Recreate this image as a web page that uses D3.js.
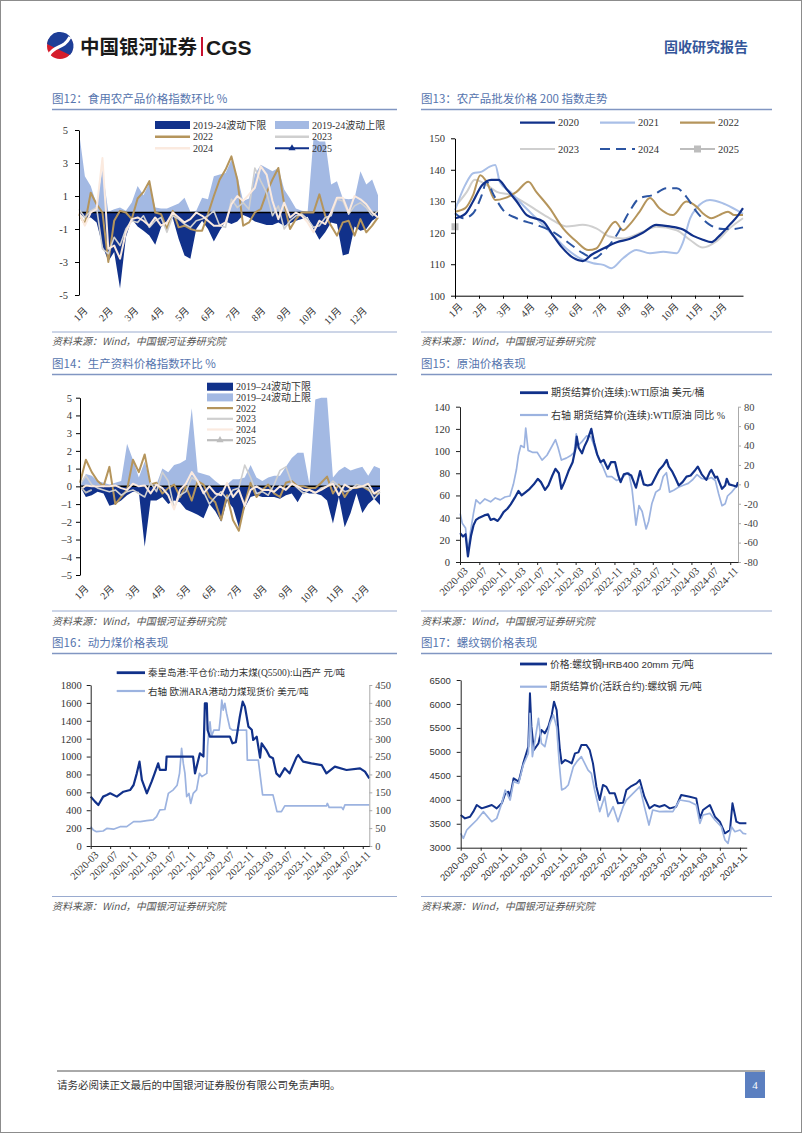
<!DOCTYPE html>
<html><head><meta charset="utf-8">
<script src="https://cdn.jsdelivr.net/npm/d3@7"></script>
<style>body{margin:0;background:#fff}svg{display:block}</style>
</head><body>
<svg id="page" width="802" height="1133"></svg>
<script>
// ---------------- DATA ----------------
const monthLabels = ["1月","2月","3月","4月","5月","6月","7月","8月","9月","10月","11月","12月"];
const dateTickLabels = ["2020-03","2020-07","2020-11","2021-03","2021-07","2021-11","2022-03","2022-07","2022-11","2023-03","2023-07","2023-11","2024-03","2024-07","2024-11"];

// Fig 12: food price index w/w (weekly, 52 weeks)
const foodUpper = [4.9,2.2,1.6,0.5,2.6,0.05,0.2,0.3,0.1,0.6,1.6,1.05,1.8,0.3,0.25,0.25,0.4,0.55,0.9,0.05,0.1,0.9,0.8,2.2,2.3,2.4,3.2,2.2,0.7,0.85,2.3,2.9,2.7,2.5,2.7,1.4,0.85,0.25,0.1,0.05,4.5,4.3,4.3,1.7,1.9,0.85,0.8,0.85,2.5,1.7,2.0,1.05];
const foodLower = [0,-0.35,-0.3,-0.6,-2.0,-2.95,-2.4,-4.6,-1.5,-0.4,-0.85,-1.1,-1.4,-1.95,-0.9,-0.55,-0.35,-1.6,-2.6,-2.8,-1.0,-0.5,-1.0,-1.75,-1.1,-0.55,-0.7,-0.55,-0.15,-0.3,-0.55,-0.65,-0.75,-0.75,-0.6,-0.8,-0.65,-0.5,-0.4,-0.25,-1.0,-1.65,-1.2,-0.6,-0.7,-2.6,-2.5,-0.85,-1.1,-1.0,-0.5,-0.25];
const food2022 = [-0.1,-0.7,1.2,0.5,0.0,-3.0,-0.5,0.1,0.0,-0.4,0.85,1.25,1.9,0.0,-0.1,-1.0,0.1,-0.9,-0.8,-1.0,-1.1,-1.1,-0.1,1.0,2.0,2.6,3.4,2.0,-0.8,-0.6,0.0,0.2,1.2,2.0,2.7,0.5,-1.0,-0.4,0.0,0.0,0.0,1.1,-0.2,-0.8,-1.4,-0.6,-0.5,-1.4,-0.4,-1.2,-0.8,-0.3];
const food2023 = [0.2,-0.3,0.1,0.3,-2.2,-2.5,-1.5,-2.0,-1.0,-0.5,-0.6,-0.2,-0.9,-0.5,-0.3,-1.2,-0.2,-0.4,-0.7,-0.9,-0.5,-0.4,-0.2,0.1,-0.8,-0.9,0.8,0.3,0.6,0.2,2.7,1.9,1.2,-0.2,0.4,-1.0,-0.5,-0.2,-0.1,-0.4,-0.9,-0.8,-0.3,-0.2,0.8,0.7,-0.1,0.4,0.6,0.3,-0.2,0.1];
const food2024 = [0.0,-0.8,0.0,0.2,3.3,-2.2,-2.0,-2.8,-1.2,-0.4,-0.3,-0.5,-0.8,-0.3,-0.8,-0.6,0.0,-0.3,-0.6,-0.4,0.0,-0.2,-0.5,-0.8,-0.8,-0.6,0.5,1.0,0.7,1.1,1.5,2.8,2.3,0.7,-0.4,0.6,-0.3,0.0,-0.2,-0.6,-1.2,-0.5,-0.7,0.0,0.9,0.9,0.0,1.0,0.8,0.5,0.0,-0.3];
const food2025 = [[47,-0.25],[48,-0.2],[49,-0.2],[50,-0.25]];

// Fig 13: agri wholesale price 200 index, [day of year, value]
const agri2020 = [[0,124.6],[13,126],[23,130],[34,135],[46,136.8],[55,136.8],[65,134],[78,130],[91,125.6],[112,123.5],[122,120],[135,115.5],[150,112],[162,111],[173,113],[188,115],[205,117],[221,118],[238,120],[255,122.5],[272,122],[289,121],[302,119],[314,117.8],[325,117],[335,119],[348,122.5],[359,125.6],[365,127.8]];
const agri2021 = [[0,127.2],[13,135.2],[23,138.9],[34,139.4],[44,141],[51,141.5],[57,136],[70,133],[86,128.8],[103,124.6],[120,120.3],[141,115],[158,111.9],[175,110.3],[188,109.8],[198,108.7],[213,111.9],[230,114.5],[247,113.5],[264,114],[281,113.5],[289,117],[298,124.6],[306,127.8],[323,130.4],[340,129.3],[357,127.2],[365,126]];
const agri2022 = [[0,126.7],[13,127.8],[23,132],[32,138.3],[40,136.2],[51,130.4],[63,131],[78,133],[93,136.2],[103,133],[120,127.8],[137,121.4],[154,117.2],[169,114.5],[179,115],[192,120.3],[203,123.5],[213,120.8],[221,122.5],[234,126.7],[247,131],[259,127.8],[276,125.6],[293,129.9],[306,128.3],[314,126.2],[325,124.6],[335,125.6],[346,126.7],[354,125.6],[365,125.6]];
const agri2023 = [[0,128.3],[15,133],[25,136.8],[40,135.2],[53,133],[70,132],[86,129.9],[103,127.2],[120,124.6],[141,122],[162,122.5],[179,121.4],[196,118.8],[213,118.2],[238,120.3],[255,121.9],[281,120.8],[298,117.7],[314,115.3],[331,117.2],[348,121.4],[365,124.6]];
const agri2024 = [[0,126.2],[11,124.6],[23,126.2],[34,132],[40,136.2],[49,132],[61,127.2],[78,124.6],[103,122.5],[124,120.3],[145,116.6],[162,113.5],[177,111.9],[188,114],[205,119.3],[221,126.7],[234,131],[251,132],[268,134.1],[281,134.1],[293,131.5],[306,126.7],[323,122.5],[340,121.2],[352,121.2],[365,121.7]];
const agri2025 = [[0,121.9]];

// Fig 14: producer goods price index w/w (weekly)
const prodUpper = [0.0,0.7,0.6,0.3,0.2,0.1,0.2,0.3,2.4,1.5,0.5,1.4,0.2,0.1,1.0,0.8,1.2,1.3,1.5,4.4,0.8,0.7,0.6,0.3,0.05,0.1,0.4,0.4,0.5,1.2,0.5,0.3,0.5,0.6,0.6,1.1,1.6,1.9,1.9,0.1,4.9,5.0,5.0,0.5,0.9,1.1,0.9,1.0,1.1,0.6,1.15,1.0];
const prodLower = [0,-0.6,-0.5,-0.3,-0.4,-1.1,-1.0,-0.8,-0.5,-0.3,-0.3,-3.4,-0.8,-0.8,-0.6,-1.0,-0.8,-0.9,-1.3,-1.45,-1.6,-1.8,-1.0,-1.4,-2.0,-0.8,-1.2,-2.3,-1.2,-0.6,-0.5,-0.6,-0.6,-0.6,-0.7,-0.5,-0.4,-0.9,-0.3,-0.4,-0.4,-0.5,-0.8,-2.1,-0.6,-2.3,-1.5,-0.4,-1.5,-1.0,-0.7,-1.05];
const prod2022 = [0.2,1.5,0.8,0.3,0.0,1.1,-1.0,-0.6,-0.2,1.5,0.8,1.8,0.1,0.2,-0.4,-0.1,0.1,-0.6,0.0,-0.8,0.3,0.1,-0.6,-0.9,-1.9,-0.5,-1.9,-2.5,-1.0,0.2,-0.6,-0.2,0.1,-0.4,-0.6,0.2,0.3,0.0,0.0,-0.1,-0.1,0.2,0.55,-0.4,0.1,-0.6,-0.1,-0.1,0.0,-0.2,-0.4,-0.4];
const prod2023 = [0.1,0.6,0.1,-0.1,-0.2,-0.3,-0.2,-0.5,-0.3,-0.2,-0.4,-0.6,0.2,-0.3,0.8,0.3,-1.2,-0.5,-0.3,0.5,0.3,-0.3,-1.0,-0.6,-0.3,-0.7,-0.2,-0.1,1.2,0.5,-0.4,-0.3,-0.5,0.1,0.9,1.1,0.2,-0.1,-0.4,-0.2,-0.4,-0.1,0.0,0.3,0.0,-0.3,-0.2,0.1,0.0,-0.1,-0.7,-0.3];
const prod2024 = [-0.2,0.05,0.0,0.0,0.0,0.0,0.05,-0.1,-0.2,0.15,0.0,0.05,-0.4,0.1,-0.1,-0.5,-1.3,-0.2,0.15,0.8,0.3,-0.4,0.0,-0.4,-0.5,0.2,-0.6,-0.2,-1.1,-0.2,0.0,-0.2,-0.2,-0.3,0.0,-0.2,0.15,0.0,-0.2,-0.2,-0.35,-0.2,0.0,0.15,-0.5,0.1,-0.1,-0.05,0.0,0.15,-0.4,-0.2];
const prod2025 = [[0,0.0],[1,-0.35],[2,-0.2]];

// Fig 15: WTI
const wtiPrice = [["2020-03-02",26],["2020-03-20",23],["2020-04-05",25],["2020-04-20",5],["2020-04-28",13],["2020-05-10",24],["2020-05-25",33],["2020-06-10",38],["2020-07-01",40],["2020-08-01",42],["2020-08-25",43],["2020-09-10",38],["2020-10-01",39],["2020-10-25",37],["2020-11-10",40],["2020-12-01",45],["2020-12-25",48],["2021-01-15",52],["2021-02-10",58],["2021-03-05",64],["2021-03-25",60],["2021-04-20",63],["2021-05-15",66],["2021-06-10",70],["2021-07-05",75],["2021-07-25",72],["2021-08-20",65],["2021-09-10",69],["2021-10-05",78],["2021-10-25",84],["2021-11-15",80],["2021-12-01",66],["2021-12-20",72],["2022-01-15",82],["2022-02-10",90],["2022-03-01",103],["2022-03-08",113],["2022-03-20",103],["2022-04-10",98],["2022-04-25",104],["2022-05-15",110],["2022-06-08",120],["2022-06-25",108],["2022-07-15",97],["2022-08-05",90],["2022-08-25",92],["2022-09-20",84],["2022-10-10",90],["2022-11-05",90],["2022-11-25",78],["2022-12-10",72],["2022-12-30",79],["2023-01-20",80],["2023-02-15",78],["2023-03-17",67],["2023-04-12",82],["2023-05-05",70],["2023-05-30",69],["2023-06-25",70],["2023-07-20",77],["2023-08-10",83],["2023-09-05",87],["2023-09-27",92],["2023-10-10",86],["2023-10-30",82],["2023-11-20",76],["2023-12-12",69],["2024-01-05",72],["2024-01-30",77],["2024-02-25",78],["2024-03-20",82],["2024-04-10",86],["2024-05-05",79],["2024-06-03",74],["2024-06-25",81],["2024-07-05",83],["2024-07-30",76],["2024-08-10",77],["2024-09-10",66],["2024-09-30",69],["2024-10-10",75],["2024-10-25",70],["2024-11-20",69],["2024-12-10",68],["2024-12-20",72]];
const wtiYoY = [["2020-03-02",-30],["2020-03-15",-40],["2020-04-05",-45],["2020-04-20",-70],["2020-05-05",-50],["2020-05-25",-30],["2020-06-10",-16],["2020-07-05",-20],["2020-08-05",-15],["2020-09-10",-18],["2020-10-10",-14],["2020-11-10",-16],["2020-12-10",-13],["2021-01-10",-12],["2021-02-01",0],["2021-02-20",15],["2021-03-05",30],["2021-03-20",40],["2021-04-10",38],["2021-04-20",58],["2021-05-05",35],["2021-06-01",33],["2021-07-01",33],["2021-08-01",25],["2021-09-01",30],["2021-10-05",40],["2021-10-25",46],["2021-11-10",38],["2021-12-01",25],["2022-01-01",27],["2022-02-01",30],["2022-02-20",33],["2022-03-05",52],["2022-03-15",40],["2022-04-10",44],["2022-05-10",50],["2022-06-05",49],["2022-06-25",40],["2022-07-20",28],["2022-08-20",18],["2022-09-15",8],["2022-10-15",8],["2022-11-15",4],["2022-12-15",6],["2023-01-10",10],["2023-01-30",12],["2023-02-20",-5],["2023-03-17",-42],["2023-04-05",-22],["2023-04-25",-28],["2023-05-20",-46],["2023-06-05",-38],["2023-06-25",-20],["2023-07-20",-8],["2023-08-15",-5],["2023-09-05",8],["2023-09-25",12],["2023-10-15",-8],["2023-11-10",-6],["2023-12-10",-3],["2024-01-10",-1],["2024-02-10",1],["2024-03-10",5],["2024-04-05",10],["2024-05-05",6],["2024-06-05",5],["2024-07-05",7],["2024-07-30",4],["2024-08-20",-10],["2024-09-10",-22],["2024-09-30",-20],["2024-10-15",-12],["2024-11-10",-8],["2024-11-30",-4],["2024-12-20",0]];

// Fig 16: thermal coal
const coalQHD = [["2020-03-01",552],["2020-03-28",496],["2020-04-18",458],["2020-05-18",552],["2020-06-10",570],["2020-07-01",589],["2020-08-12",552],["2020-09-22",607],["2020-11-03",626],["2020-11-25",682],["2020-12-15",812],["2021-01-01",943],["2021-01-16",738],["2021-02-16",589],["2021-03-18",719],["2021-04-06",812],["2021-04-28",924],["2021-05-09",850],["2021-06-15",850],["2021-06-20",1000],["2021-12-03",1000],["2021-12-15",812],["2022-01-15",1036],["2022-02-06",1000],["2022-02-15",1595],["2022-02-27",1595],["2022-03-04",1297],["2022-03-18",1222],["2022-07-22",1222],["2022-08-07",1148],["2022-08-28",1160],["2022-09-22",1446],["2022-10-10",1614],["2022-10-24",1558],["2022-11-15",1334],["2022-12-06",1300],["2022-12-15",1185],["2023-01-06",1222],["2023-01-27",988],["2023-02-06",1148],["2023-03-07",1073],["2023-03-28",1000],["2023-04-18",980],["2023-05-09",812],["2023-05-30",775],["2023-07-01",870],["2023-07-31",812],["2023-09-12",991],["2023-09-24",1017],["2023-10-24",943],["2023-12-15",924],["2024-02-17",905],["2024-03-18",812],["2024-05-10",887],["2024-07-22",850],["2024-10-15",868],["2024-11-15",831],["2024-12-12",757]];
const coalARA = [["2020-03-01",54],["2020-03-17",45],["2020-04-06",40],["2020-05-18",42],["2020-06-10",49],["2020-07-22",47],["2020-09-01",54],["2020-10-13",54],["2020-11-25",68],["2021-01-06",68],["2021-02-16",71],["2021-03-28",73],["2021-04-18",82],["2021-05-09",101],["2021-06-09",102],["2021-07-01",147],["2021-08-01",157],["2021-08-25",170],["2021-09-09",203],["2021-09-22",273],["2021-10-03",230],["2021-10-13",203],["2021-10-24",138],["2021-11-07",147],["2021-11-18",119],["2021-12-04",147],["2021-12-25",157],["2022-01-12",203],["2022-01-27",194],["2022-02-27",203],["2022-03-04",278],["2022-03-13",330],["2022-03-19",347],["2022-03-28",306],["2022-04-12",324],["2022-05-15",324],["2022-05-24",362],["2022-06-01",408],["2022-06-10",380],["2022-06-20",399],["2022-07-01",371],["2022-07-22",329],["2022-08-07",324],["2022-11-03",324],["2022-11-08",240],["2023-01-16",240],["2023-02-12",143],["2023-04-18",143],["2023-05-01",119],["2023-05-13",96],["2023-06-10",96],["2023-07-01",112],["2024-03-18",112],["2024-03-24",119],["2024-04-04",108],["2024-06-22",108],["2024-07-01",102],["2024-07-12",115],["2024-12-12",115]];

// Fig 17: rebar
const rebarSpot = [["2020-03-01",3682],["2020-03-27",3612],["2020-04-27",3647],["2020-05-17",3752],["2020-06-07",3891],["2020-07-07",3821],["2020-08-07",3856],["2020-09-07",3891],["2020-10-07",3821],["2020-11-07",3926],["2020-11-28",4134],["2020-12-18",4169],["2020-12-28",4065],["2021-01-18",4447],["2021-02-18",4378],["2021-03-18",4760],["2021-04-18",5108],["2021-04-28",6222],["2021-05-07",5526],["2021-05-22",5039],["2021-06-19",5178],["2021-07-07",5456],["2021-07-28",5387],["2021-08-18",5526],["2021-09-08",5770],["2021-09-22",6048],["2021-10-08",5874],["2021-10-28",5039],["2021-11-08",4760],["2021-11-28",4830],["2021-12-18",4800],["2022-01-08",4760],["2022-01-28",4969],["2022-02-18",4990],["2022-03-08",5143],["2022-04-08",5143],["2022-04-28",5040],["2022-05-18",4760],["2022-06-08",4274],["2022-06-28",3995],["2022-07-18",4309],["2022-08-08",4270],["2022-08-28",4134],["2022-09-28",4134],["2022-10-18",3926],["2022-11-18",3940],["2022-12-08",4204],["2023-01-08",4287],["2023-02-08",4343],["2023-02-28",4413],["2023-03-28",4065],["2023-04-28",3821],["2023-05-28",3891],["2023-06-28",3856],["2023-07-30",3891],["2023-08-30",3821],["2023-10-08",3856],["2023-11-08",4100],["2023-12-30",4065],["2024-02-08",4030],["2024-03-01",3612],["2024-03-20",3787],["2024-05-01",3891],["2024-06-01",3647],["2024-07-01",3543],["2024-08-01",3300],["2024-09-01",3369],["2024-09-16",3926],["2024-10-10",3543],["2024-11-01",3508],["2024-12-10",3508]];
const rebarFut = [["2020-03-01",3300],["2020-03-17",3195],["2020-04-07",3369],["2020-04-27",3438],["2020-06-07",3578],["2020-07-17",3752],["2020-09-07",3543],["2020-10-07",3612],["2020-11-07",3926],["2020-11-28",4204],["2020-12-28",3995],["2021-01-18",4378],["2021-02-18",4343],["2021-03-18",4725],["2021-04-18",4969],["2021-04-28",5804],["2021-05-13",4900],["2021-06-19",5700],["2021-07-07",5178],["2021-07-28",5108],["2021-08-28",5596],["2021-09-18",5770],["2021-10-08",5526],["2021-10-24",4760],["2021-11-08",4204],["2021-11-28",4239],["2021-12-18",4309],["2022-01-18",4690],["2022-02-08",4795],["2022-03-08",4900],["2022-04-18",4621],["2022-05-08",4552],["2022-05-28",4204],["2022-06-28",3752],["2022-07-28",4065],["2022-08-18",3647],["2022-09-18",3856],["2022-10-18",3543],["2022-11-18",3856],["2022-12-08",3995],["2023-01-18",4134],["2023-02-28",4274],["2023-03-28",3856],["2023-04-25",3473],["2023-05-18",3787],["2023-06-28",3752],["2023-08-08",3760],["2023-09-18",3752],["2023-10-30",3995],["2023-12-30",3960],["2024-02-08",3891],["2024-03-01",3508],["2024-03-20",3682],["2024-05-01",3717],["2024-06-01",3578],["2024-07-10",3438],["2024-08-01",3161],["2024-08-20",3091],["2024-09-10",3438],["2024-10-01",3334],["2024-11-01",3369],["2024-11-20",3300],["2024-12-10",3286]];

// ---------------- STYLE ----------------
const NAVY="#11318a", LIGHT="#a3b9e3", TAN="#b5955c", G23="#cfcfcf", P24="#fbeadf", L21="#a9bfe7", D24="#2c55a2", G25="#bdbdbd";
const TITLE_C="#5675ae", RULE_C="#8196c2";
const SERIF="'Liberation Serif','Noto Sans CJK SC',serif";
const SANS="'Liberation Sans','Noto Sans CJK SC',sans-serif";
const CJK="'Noto Sans CJK SC',sans-serif";
const parse = d3.timeParse("%Y-%m-%d");
const parseM = d3.timeParse("%Y-%m");
const plain = d => String(d);

const svg = d3.select("#page");
svg.append("rect").attr("x",0.5).attr("y",0.5).attr("width",801).attr("height",1132).attr("fill","#fff").attr("stroke","#8c8c8c");

function txt(g,x,y,s,o={}){
  const t=g.append("text").attr("x",x).attr("y",y).text(s)
    .attr("font-family",o.ff||CJK).attr("font-size",o.fs||11).attr("fill",o.fill||"#333");
  if(o.anchor) t.attr("text-anchor",o.anchor);
  if(o.fw) t.attr("font-weight",o.fw);
  if(o.fst) t.attr("font-style",o.fst);
  return t;
}
function hline(x1,x2,y,c,w){ svg.append("line").attr("x1",x1).attr("x2",x2).attr("y1",y).attr("y2",y).attr("stroke",c).attr("stroke-width",w); }

// ---------------- HEADER ----------------
const hd = svg.append("g");
hd.append("circle").attr("cx",60).attr("cy",46).attr("r",13).attr("fill","#d51d2c");
hd.append("path").attr("d","M47,44 A13,13 0 0 1 72,40 A13,13 0 0 1 70,55 Z").attr("fill","#1d3e97");
hd.append("path").attr("d","M49,55 C55,44 63,50 70,37").attr("fill","none").attr("stroke","#fff").attr("stroke-width",3.2);
txt(hd,80,54,"中国银河证券",{fs:19.5,fw:700,fill:"#1a1a1a"});
hd.append("rect").attr("x",201).attr("y",37).attr("width",2).attr("height",19).attr("fill","#c8102e");
txt(hd,206,55,"CGS",{ff:"'Liberation Sans',Arial,sans-serif",fs:21,fw:700,fill:"#1a1a1a"});
txt(hd,748,52,"固收研究报告",{fs:14,fw:700,fill:"#34569a",anchor:"end"});

// ---------------- PANEL FRAMES ----------------
function frame(x1,x2,titleY,ruleY,title,srcRuleY,srcY){
  txt(svg,x1,titleY,title,{fs:11.5,fill:TITLE_C});
  hline(x1,x2,ruleY,RULE_C,1.5);
  hline(x1,x2,srcRuleY,"#9aabcf",1);
  txt(svg,x1,srcY,"资料来源：Wind，中国银河证券研究院",{fs:10,fill:"#555",fst:"italic"});
}
frame(52,397,103,109.5,"图12：食用农产品价格指数环比  %",332,345);
frame(421,772,103,109.5,"图13：农产品批发价格 200 指数走势",332,345);
frame(52,397,368,374.5,"图14：生产资料价格指数环比  %",611,625);
frame(421,772,368,374.5,"图15：原油价格表现",611,625);
frame(52,397,647,653.5,"图16：动力煤价格表现",896.5,910);
frame(421,772,647,653.5,"图17：螺纹钢价格表现",896.5,910);

// ---------------- LEGEND HELPERS ----------------
function legRect(g,x1,x2,y,c,label,o){
  g.append("rect").attr("x",x1).attr("y",y-4).attr("width",x2-x1).attr("height",8).attr("fill",c);
  txt(g,x2+3,y+3.6,label,o);
}
function legLine(g,x1,x2,y,c,w,label,o,extra={}){
  const l=g.append("line").attr("x1",x1).attr("x2",x2).attr("y1",y).attr("y2",y).attr("stroke",c).attr("stroke-width",w);
  if(extra.dash) l.attr("stroke-dasharray",extra.dash);
  const mx=(x1+x2)/2;
  if(extra.marker==="tri") g.append("path").attr("d",d3.symbol(d3.symbolTriangle,22)()).attr("transform",`translate(${mx},${y})`).attr("fill",c);
  if(extra.marker==="sq") g.append("rect").attr("x",mx-3.5).attr("y",y-3.5).attr("width",7).attr("height",7).attr("fill",c);
  txt(g,x2+3,y+3.6,label,o);
}

// ---------------- WEEKLY (FIG 12 / 14) ----------------
function weekly(o){
  const g=svg.append("g");
  const x=d3.scaleLinear().domain([0,51]).range([o.x0,o.x1]);
  const y=d3.scaleLinear().domain([-5,5]).range([o.yBot,o.yTop]);
  const area=d3.area().x((d,i)=>x(i)).y0(y(0)).y1(d=>y(d));
  g.append("path").datum(o.upper).attr("d",area).attr("fill",LIGHT);
  g.append("path").datum(o.lower).attr("d",area).attr("fill",NAVY);
  g.append("line").attr("x1",o.x0).attr("x2",o.x1).attr("y1",y(0)).attr("y2",y(0)).attr("stroke","#000").attr("stroke-width",1.5);
  const ln=d3.line().x((d,i)=>x(i)).y(d=>y(d));
  o.lines.forEach(s=>{
    g.append("path").datum(s.data).attr("d",ln).attr("fill","none").attr("stroke",s.c).attr("stroke-width",s.w).attr("stroke-linejoin","round");
  });
  const lp=d3.line().x(d=>x(d[0])).y(d=>y(d[1]));
  g.append("path").datum(o.y25.data).attr("d",lp).attr("fill","none").attr("stroke",o.y25.c).attr("stroke-width",1.8);
  const ax=g.append("g").attr("transform",`translate(${o.x0},0)`)
    .call(d3.axisLeft(y).tickValues(o.ticks).tickSize(4).tickSizeOuter(0).tickPadding(o.pad).tickFormat(o.fmt));
  ax.select(".domain").attr("stroke","#000");
  ax.selectAll(".tick line").attr("stroke","#000");
  ax.selectAll("text").attr("font-family",SERIF).attr("font-size",10.5).attr("fill","#333");
  monthLabels.forEach((m,k)=>{
    g.append("text").attr("transform",`translate(${x(k*4.33)+4},${o.labY}) rotate(-45)`)
      .attr("text-anchor","end").attr("dy","0.75em").text(m)
      .attr("font-family",SERIF).attr("font-size",10).attr("fill","#333");
  });
  return g;
}
const g12 = weekly({x0:79,x1:378,yTop:130,yBot:295,upper:foodUpper,lower:foodLower,
  lines:[{data:food2022,c:TAN,w:2},{data:food2023,c:G23,w:1.6},{data:food2024,c:P24,w:2}],
  y25:{data:food2025,c:NAVY},ticks:[-5,-3,-1,1,3,5],pad:7,fmt:plain,labY:306});
legRect(g12,155,190,125,NAVY,"2019-24波动下限",{ff:SERIF,fs:10});
legRect(g12,275,309,125,LIGHT,"2019-24波动上限",{ff:SERIF,fs:10});
legLine(g12,155,190,136.7,TAN,2.5,"2022",{ff:SERIF,fs:10});
legLine(g12,275,309,136.7,G23,2.5,"2023",{ff:SERIF,fs:10});
legLine(g12,155,190,148.3,P24,2.5,"2024",{ff:SERIF,fs:10});
legLine(g12,275,309,148.3,NAVY,2,"2025",{ff:SERIF,fs:10},{marker:"tri"});

const g14 = weekly({x0:80,x1:380,yTop:397.7,yBot:575,upper:prodUpper,lower:prodLower,
  lines:[{data:prod2022,c:TAN,w:2},{data:prod2023,c:G23,w:1.6},{data:prod2024,c:P24,w:2}],
  y25:{data:prod2025,c:G25},ticks:d3.range(-5,6),pad:4,fmt:d=>d<0?"–"+(-d):String(d),labY:584});
const l14=[["rect",NAVY,"2019–24波动下限"],["rect",LIGHT,"2019–24波动上限"],["line",TAN,"2022"],["line",G23,"2023"],["line",P24,"2024"],["tri",G25,"2025"]];
l14.forEach((e,k)=>{
  const yy=386.7+10.7*k, o={ff:SERIF,fs:10};
  if(e[0]==="rect") legRect(g14,207,233,yy,e[1],e[2],o);
  else legLine(g14,207,233,yy,e[1],2.2,e[2],o,e[0]==="tri"?{marker:"tri"}:{});
});

// ---------------- FIG 13 ----------------
(function(){
  const g=svg.append("g");
  const x=d3.scaleLinear().domain([0,365]).range([455,743]);
  const y=d3.scaleLinear().domain([100,150]).range([295.7,138.3]);
  const ln=d3.line().x(d=>x(d[0])).y(d=>y(d[1])).curve(d3.curveMonotoneX);
  const series=[[agri2023,G23,2,null],[agri2021,L21,2,null],[agri2022,TAN,2,null],[agri2024,D24,2,"10,6"],[agri2020,NAVY,2.2,null]];
  series.forEach(s=>{
    const p=g.append("path").datum(s[0]).attr("d",ln).attr("fill","none").attr("stroke",s[1]).attr("stroke-width",s[2]);
    if(s[3]) p.attr("stroke-dasharray",s[3]);
  });
  agri2025.forEach(d=>g.append("rect").attr("x",x(d[0])-3.5).attr("y",y(d[1])-3.5).attr("width",7).attr("height",7).attr("fill",G25));
  const ay=g.append("g").attr("transform","translate(455,0)")
    .call(d3.axisLeft(y).tickValues(d3.range(100,151,10)).tickSize(4).tickSizeOuter(0).tickPadding(6));
  const monthDays=monthLabels.map((m,k)=>k*30.42);
  const axb=g.append("g").attr("transform","translate(0,295.7)")
    .call(d3.axisBottom(x).tickValues(monthDays).tickSize(3).tickSizeOuter(0).tickFormat(""));
  [ay,axb].forEach(a=>{a.select(".domain").attr("stroke","#000");a.selectAll(".tick line").attr("stroke","#000");
    a.selectAll("text").attr("font-family",SERIF).attr("font-size",10.5).attr("fill","#333");});
  monthLabels.forEach((m,k)=>{
    g.append("text").attr("transform",`translate(${x(monthDays[k])+3},${302}) rotate(-45)`)
      .attr("text-anchor","end").attr("dy","0.75em").text(m)
      .attr("font-family",SERIF).attr("font-size",10).attr("fill","#333");
  });
  const o={ff:SERIF,fs:10.5};
  legLine(g,520,555,122.7,NAVY,2.2,"2020",o);
  legLine(g,600,635,122.7,L21,2.2,"2021",o);
  legLine(g,680,715,122.7,TAN,2.2,"2022",o);
  legLine(g,520,555,149,G23,2.2,"2023",o);
  legLine(g,600,635,149,D24,2.2,"2024",o,{dash:"10,6"});
  legLine(g,680,715,149,G25,2.2,"2025",o,{marker:"sq"});
})();

// ---------------- TIME CHARTS ----------------
function timeChart(o){
  const g=svg.append("g");
  const x=d3.scaleTime().domain([parse(o.xDom[0]),parse(o.xDom[1])]).range([o.x0,o.x1]);
  const yl=d3.scaleLinear().domain(o.lDom).range([o.yBot,o.yTop]);
  const yr=o.rDom?d3.scaleLinear().domain(o.rDom).range([o.yBot,o.yTop]):null;
  o.series.forEach(s=>{
    const ys=s.right?yr:yl;
    g.append("path").datum(s.data).attr("d",d3.line().x(d=>x(parse(d[0]))).y(d=>ys(d[1])))
      .attr("fill","none").attr("stroke",s.c).attr("stroke-width",s.w).attr("stroke-linejoin","round");
  });
  const al=g.append("g").attr("transform",`translate(${o.x0},0)`)
    .call(d3.axisLeft(yl).tickValues(o.lTicks).tickSize(4).tickSizeOuter(0).tickPadding(o.lPad).tickFormat(plain));
  al.select(".domain").attr("stroke","#222"); al.selectAll(".tick line").attr("stroke","#222");
  al.selectAll("text").attr("font-family",o.font).attr("font-size",o.fs).attr("fill","#333");
  if(yr){
    const ar=g.append("g").attr("transform",`translate(${o.x1},0)`)
      .call(d3.axisRight(yr).tickValues(o.rTicks).tickSize(3).tickSizeOuter(0).tickPadding(3).tickFormat(plain));
    ar.select(".domain").attr("stroke","#aaa"); ar.selectAll(".tick line").attr("stroke","#aaa");
    ar.selectAll("text").attr("font-family",o.font).attr("font-size",o.fs).attr("fill","#444");
  }
  const tickDates=dateTickLabels.map(s=>parseM(s));
  const ab=g.append("g").attr("transform",`translate(0,${o.yBot})`)
    .call(d3.axisBottom(x).tickValues(tickDates).tickSize(3).tickSizeOuter(0).tickFormat(""));
  ab.select(".domain").attr("stroke","#222"); ab.selectAll(".tick line").attr("stroke","#222");
  dateTickLabels.forEach((s,k)=>{
    g.append("text").attr("transform",`translate(${x(tickDates[k])+3},${o.yBot+4}) rotate(-45)`)
      .attr("text-anchor","end").attr("dy","0.75em").text(s)
      .attr("font-family",o.font).attr("font-size",o.fs).attr("fill","#333");
  });
  return g;
}

const g15=timeChart({x0:460,x1:738,yTop:406.7,yBot:562,xDom:["2020-03-01","2024-12-20"],
  lDom:[0,140],lTicks:d3.range(0,141,20),lPad:6,rDom:[-80,80],rTicks:d3.range(-80,81,20),
  font:SERIF,fs:10.5,
  series:[{data:wtiYoY,c:"#9cb3e0",w:1.7,right:true},{data:wtiPrice,c:NAVY,w:2.2}]});
legLine(g15,520,548,392.7,NAVY,2.8,"期货结算价(连续):WTI原油 美元/桶",{ff:SERIF,fs:10});
legLine(g15,520,548,415,"#9cb3e0",2.2,"右轴 期货结算价(连续):WTI原油 同比 %",{ff:SERIF,fs:10});

const g16=timeChart({x0:90.7,x1:369.3,yTop:685,yBot:846,xDom:["2020-03-01","2024-12-12"],
  lDom:[0,1800],lTicks:d3.range(0,1801,200),lPad:5,rDom:[0,450],rTicks:d3.range(0,451,50),
  font:SERIF,fs:10.5,
  series:[{data:coalARA,c:"#9cb3e0",w:1.7,right:true},{data:coalQHD,c:NAVY,w:2.2}]});
legLine(g16,116.7,145,672.7,NAVY,2.8,"秦皇岛港:平仓价:动力末煤(Q5500):山西产 元/吨",{ff:SERIF,fs:9.5});
legLine(g16,116.7,145,691,"#9cb3e0",2.2,"右轴 欧洲ARA港动力煤现货价 美元/吨",{ff:SERIF,fs:9.5});

const g17=timeChart({x0:460.7,x1:746.7,yTop:680,yBot:847.7,xDom:["2020-03-01","2024-12-12"],
  lDom:[3000,6500],lTicks:d3.range(3000,6501,500),lPad:6,
  font:SANS,fs:9.5,
  series:[{data:rebarSpot,c:NAVY,w:2},{data:rebarFut,c:"#9cb3e0",w:1.7}]});
legLine(g17,520,547,664,NAVY,2.8,"价格:螺纹钢HRB400 20mm 元/吨",{ff:SANS,fs:9.8});
legLine(g17,520,547,686.7,"#9cb3e0",2.2,"期货结算价(活跃合约):螺纹钢 元/吨",{ff:SANS,fs:9.8});

// ---------------- FOOTER ----------------
hline(57,765,1071,"#555",1);
txt(svg,57,1089,"请务必阅读正文最后的中国银河证券股份有限公司免责声明。",{fs:10.5,fill:"#333"});
svg.append("rect").attr("x",745).attr("y",1072).attr("width",20).attr("height",26).attr("fill","#5b7fc0");
txt(svg,755,1089,"4",{ff:SERIF,fs:11,fill:"#fff",anchor:"middle"});
</script>
</body></html>
